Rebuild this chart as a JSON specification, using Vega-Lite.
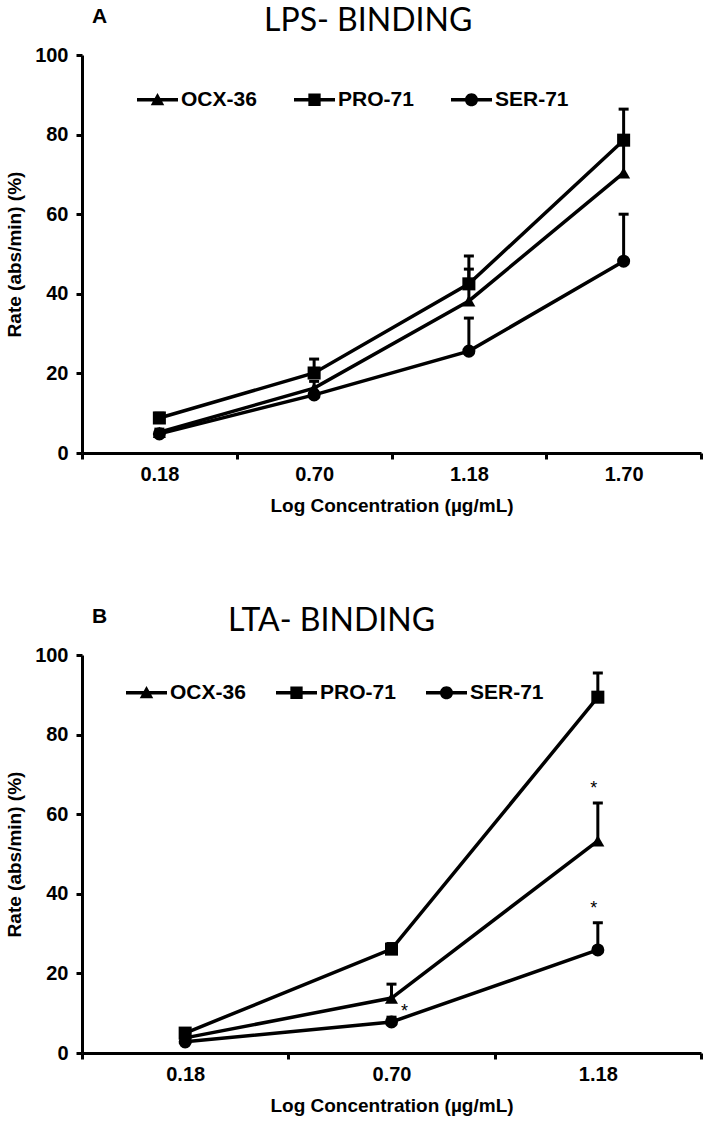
{
  "$schema": "https://vega.github.io/schema/vega-lite/v6.json",
  "padding": {"left": 5, "top": 5, "right": 2, "bottom": 2},
  "background": "white",
  "config": {
    "view": {"stroke": null},
    "font": "Liberation Sans",
    "axis": {
      "domainColor": "black", "domainWidth": 3, "tickColor": "black", "tickWidth": 3, "tickSize": 6,
      "labelFont": "Liberation Sans", "labelFontWeight": "bold", "labelFontSize": 20, "labelColor": "black",
      "titleFont": "Liberation Sans", "titleFontWeight": "bold", "titleFontSize": 19, "titleColor": "black",
      "grid": false
    },
    "legend": {
      "orient": "none", "direction": "horizontal", "title": null, "symbolSize": 1681,
      "symbolStrokeWidth": 0, "symbolFillColor": "black", "symbolOpacity": 1, "labelFont": "Liberation Sans",
      "labelFontWeight": "bold", "labelFontSize": 21, "labelColor": "black", "labelOffset": 3, "padding": 0
    }
  },
  "datasets": {
    "lps": [
      {"conc": "0.18", "series": "OCX-36", "rate": 5.2, "upper": 6.0},
      {"conc": "0.70", "series": "OCX-36", "rate": 16.3, "upper": 18.0},
      {"conc": "1.18", "series": "OCX-36", "rate": 38.2, "upper": 46.2},
      {"conc": "1.70", "series": "OCX-36", "rate": 70.4, "upper": 78.0},
      {"conc": "0.18", "series": "PRO-71", "rate": 8.8, "upper": 10.0},
      {"conc": "0.70", "series": "PRO-71", "rate": 20.1, "upper": 23.6},
      {"conc": "1.18", "series": "PRO-71", "rate": 42.5, "upper": 49.5},
      {"conc": "1.70", "series": "PRO-71", "rate": 78.6, "upper": 86.4},
      {"conc": "0.18", "series": "SER-71", "rate": 4.8, "upper": 5.5},
      {"conc": "0.70", "series": "SER-71", "rate": 14.6, "upper": 15.5},
      {"conc": "1.18", "series": "SER-71", "rate": 25.6, "upper": 33.9},
      {"conc": "1.70", "series": "SER-71", "rate": 48.2, "upper": 60.0}
    ],
    "lta": [
      {"conc": "0.18", "series": "OCX-36", "rate": 3.8, "upper": 4.5, "sig": false},
      {"conc": "0.70", "series": "OCX-36", "rate": 13.8, "upper": 17.3, "sig": false},
      {"conc": "1.18", "series": "OCX-36", "rate": 53.3, "upper": 62.8, "sig": true},
      {"conc": "0.18", "series": "PRO-71", "rate": 5.0, "upper": 5.8, "sig": false},
      {"conc": "0.70", "series": "PRO-71", "rate": 26.1, "upper": 27.5, "sig": false},
      {"conc": "1.18", "series": "PRO-71", "rate": 89.4, "upper": 95.5, "sig": false},
      {"conc": "0.18", "series": "SER-71", "rate": 2.8, "upper": 3.3, "sig": false},
      {"conc": "0.70", "series": "SER-71", "rate": 7.8, "upper": 9.0, "sig": true},
      {"conc": "1.18", "series": "SER-71", "rate": 25.9, "upper": 32.7, "sig": true}
    ]
  },
  "spacing": 90,
  "vconcat": [
    {
      "title": {"text": "A", "anchor": "start", "frame": "group", "dx": 10, "offset": -22, "font": "Liberation Sans", "fontSize": 21, "fontWeight": "bold", "color": "black"},
      "vconcat": [
        {
          "title": {"text": "LPS- BINDING", "anchor": "start", "frame": "group", "dx": 182, "offset": 7, "font": "Lato", "fontSize": 32, "fontWeight": "normal", "color": "black"},
          "width": 619,
          "height": 398,
          "data": {"name": "lps"},
          "resolve": {"scale": {"shape": "independent"}, "legend": {"shape": "independent"}},
          "encoding": {
            "x": {"field": "conc", "type": "ordinal", "title": "Log Concentration (µg/mL)",
                  "scale": {"type": "band", "paddingInner": 0, "paddingOuter": 0},
                  "axis": {"labelAngle": 0, "tickBand": "extent", "labelPadding": 5, "titlePadding": 12}}
          },
          "layer": [
            {"mark": {"type": "rule", "strokeWidth": 3, "color": "black"},
             "encoding": {"y": {"field": "rate", "type": "quantitative"}, "y2": {"field": "upper"}}},
            {"mark": {"type": "tick", "thickness": 3, "size": 10, "color": "black", "opacity": 1},
             "encoding": {"y": {"field": "upper", "type": "quantitative"}}},
            {"mark": {"type": "line", "strokeWidth": 3.5, "color": "black"},
             "encoding": {"y": {"field": "rate", "type": "quantitative"}, "detail": {"field": "series"}}},
            {"mark": {"type": "point", "filled": true, "opacity": 1, "color": "black", "size": 170},
             "encoding": {
               "y": {"field": "rate", "type": "quantitative",
                     "scale": {"domain": [0, 100], "nice": false},
                     "axis": {"values": [0, 20, 40, 60, 80, 100], "title": "Rate (abs/min) (%)", "labelPadding": 8, "titlePadding": 10}},
               "shape": {"field": "series", "type": "nominal",
                 "scale": {"domain": ["OCX-36", "PRO-71", "SER-71"], "range": ["triangle-up", "square", "circle"]},
                 "legend": null}
             }},
            {"transform": [{"filter": "false"}],
             "mark": {"type": "point", "filled": true, "opacity": 1, "color": "black"},
             "encoding": {
               "shape": {"field": "series", "type": "nominal",
                 "scale": {"domain": ["OCX-36", "PRO-71", "SER-71"],
                   "range": ["M-1,-0.085H1V0.085H-1Z M-0.33,0.27L0,-0.33L0.33,0.27Z", "M-1,-0.085H1V0.085H-1Z M-0.3,-0.3H0.3V0.3H-0.3Z", "M-1,-0.085H1V0.085H-1Z M-0.32,0A0.32,0.32 0 1,1 0.32,0A0.32,0.32 0 1,1 -0.32,0Z"]},
                 "legend": {"legendX": 55, "legendY": 24, "columnPadding": 37, "symbolSize": 1681, "symbolOpacity": 1}}
             }}
          ]
        }
      ]
    },
    {
      "title": {"text": "B", "anchor": "start", "frame": "group", "dx": 10, "offset": -22, "font": "Liberation Sans", "fontSize": 21, "fontWeight": "bold", "color": "black"},
      "vconcat": [
        {
          "title": {"text": "LTA- BINDING", "anchor": "start", "frame": "group", "dx": 146, "offset": 7, "font": "Lato", "fontSize": 32, "fontWeight": "normal", "color": "black"},
          "width": 619,
          "height": 398,
          "data": {"name": "lta"},
          "resolve": {"scale": {"shape": "independent"}, "legend": {"shape": "independent"}},
          "encoding": {
            "x": {"field": "conc", "type": "ordinal", "title": "Log Concentration (µg/mL)",
                  "scale": {"type": "band", "paddingInner": 0, "paddingOuter": 0},
                  "axis": {"labelAngle": 0, "tickBand": "extent", "labelPadding": 5, "titlePadding": 12}}
          },
          "layer": [
            {"mark": {"type": "rule", "strokeWidth": 3, "color": "black"},
             "encoding": {"y": {"field": "rate", "type": "quantitative"}, "y2": {"field": "upper"}}},
            {"mark": {"type": "tick", "thickness": 3, "size": 10, "color": "black", "opacity": 1},
             "encoding": {"y": {"field": "upper", "type": "quantitative"}}},
            {"mark": {"type": "line", "strokeWidth": 3.5, "color": "black"},
             "encoding": {"y": {"field": "rate", "type": "quantitative"}, "detail": {"field": "series"}}},
            {"mark": {"type": "point", "filled": true, "opacity": 1, "color": "black", "size": 170},
             "encoding": {
               "y": {"field": "rate", "type": "quantitative",
                     "scale": {"domain": [0, 100], "nice": false},
                     "axis": {"values": [0, 20, 40, 60, 80, 100], "title": "Rate (abs/min) (%)", "labelPadding": 8, "titlePadding": 10}},
               "shape": {"field": "series", "type": "nominal",
                 "scale": {"domain": ["OCX-36", "PRO-71", "SER-71"], "range": ["triangle-up", "square", "circle"]},
                 "legend": null}
             }},
            {"transform": [{"filter": "false"}],
             "mark": {"type": "point", "filled": true, "opacity": 1, "color": "black"},
             "encoding": {
               "shape": {"field": "series", "type": "nominal",
                 "scale": {"domain": ["OCX-36", "PRO-71", "SER-71"],
                   "range": ["M-1,-0.085H1V0.085H-1Z M-0.33,0.27L0,-0.33L0.33,0.27Z", "M-1,-0.085H1V0.085H-1Z M-0.3,-0.3H0.3V0.3H-0.3Z", "M-1,-0.085H1V0.085H-1Z M-0.32,0A0.32,0.32 0 1,1 0.32,0A0.32,0.32 0 1,1 -0.32,0Z"]},
                 "legend": {"legendX": 44, "legendY": 17, "columnPadding": 30, "symbolSize": 1681, "symbolOpacity": 1}}
             }},
            {"transform": [{"filter": "datum.sig && datum.conc === '1.18'"}],
             "mark": {"type": "text", "text": "*", "font": "Liberation Sans", "fontSize": 18, "color": "black", "baseline": "middle", "dx": -4, "dy": -14},
             "encoding": {"y": {"field": "upper", "type": "quantitative"}}},
            {"transform": [{"filter": "datum.sig && datum.conc === '0.70'"}],
             "mark": {"type": "text", "text": "*", "font": "Liberation Sans", "fontSize": 18, "color": "black", "baseline": "middle", "dx": 13, "dy": -5},
             "encoding": {"y": {"field": "upper", "type": "quantitative"}}}
          ]
        }
      ]
    }
  ]
}
